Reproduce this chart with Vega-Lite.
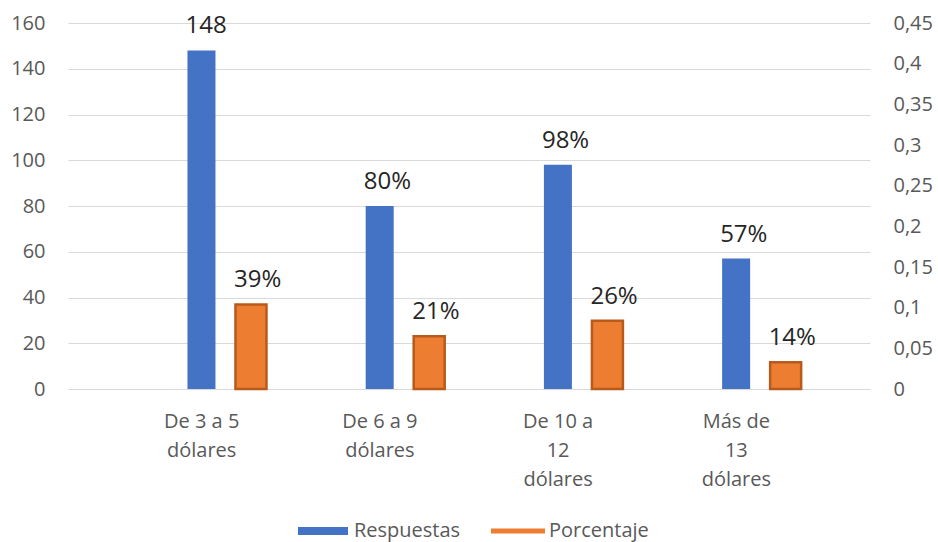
{
  "$schema": "https://vega.github.io/schema/vega-lite/v6.json",
  "autosize": "none",
  "width": 802,
  "height": 366,
  "padding": {"left": 68, "top": 23, "right": 68, "bottom": 153},
  "background": "white",
  "config": {
    "view": {"stroke": null},
    "font": "Open Sans",
    "axis": {"labelFont": "Open Sans", "labelColor": "#595959", "labelFontSize": 20, "domain": false, "ticks": false, "tickSize": 0, "title": null},
    "legend": {"labelFont": "Open Sans"}
  },
  "data": {
    "values": [
      {"categoria": "De 3 a 5 dólares", "serie": "Respuestas", "valor": 148, "etiqueta": "148"},
      {"categoria": "De 6 a 9 dólares", "serie": "Respuestas", "valor": 80, "etiqueta": "80%"},
      {"categoria": "De 10 a 12 dólares", "serie": "Respuestas", "valor": 98, "etiqueta": "98%"},
      {"categoria": "Más de 13 dólares", "serie": "Respuestas", "valor": 57, "etiqueta": "57%"},
      {"categoria": "De 3 a 5 dólares", "serie": "Porcentaje", "valor": 0.104, "etiqueta": "39%"},
      {"categoria": "De 6 a 9 dólares", "serie": "Porcentaje", "valor": 0.065, "etiqueta": "21%"},
      {"categoria": "De 10 a 12 dólares", "serie": "Porcentaje", "valor": 0.084, "etiqueta": "26%"},
      {"categoria": "Más de 13 dólares", "serie": "Porcentaje", "valor": 0.033, "etiqueta": "14%"}
    ]
  },
  "encoding": {
    "x": {
      "field": "categoria",
      "type": "nominal",
      "sort": ["De 3 a 5 dólares", "De 6 a 9 dólares", "De 10 a 12 dólares", "Más de 13 dólares"],
      "scale": {"paddingInner": 0, "paddingOuter": 0.25},
      "axis": {
        "labelAngle": 0,
        "labelPadding": 22,
        "labelLineHeight": 29,
        "labelBaseline": "top",
        "labelExpr": "datum.value == 'De 3 a 5 dólares' ? ['De 3 a 5', 'dólares'] : datum.value == 'De 6 a 9 dólares' ? ['De 6 a 9', 'dólares'] : datum.value == 'De 10 a 12 dólares' ? ['De 10 a', '12', 'dólares'] : ['Más de', '13', 'dólares']"
      }
    },
    "xOffset": {
      "field": "serie",
      "type": "nominal",
      "scale": {"domain": ["Respuestas", "Porcentaje"], "paddingInner": 0, "paddingOuter": 0.8, "align": 0.81}
    }
  },
  "layer": [
    {
      "transform": [{"filter": "datum.serie == 'Respuestas'"}],
      "encoding": {
        "y": {
          "field": "valor",
          "type": "quantitative",
          "scale": {"domain": [0, 160], "nice": false},
          "axis": {"orient": "left", "values": [0, 20, 40, 60, 80, 100, 120, 140, 160], "grid": true, "gridColor": "#D9D9D9", "gridWidth": 1, "labelPadding": 23}
        }
      },
      "layer": [
        {
          "mark": {"type": "bar", "width": 28},
          "encoding": {
            "color": {
              "field": "serie",
              "type": "nominal",
              "scale": {"domain": ["Respuestas", "Porcentaje"], "range": ["#4472C4", "#ED7D31"]},
              "legend": {
                "title": null,
                "orient": "none",
                "direction": "horizontal",
                "legendX": 230,
                "legendY": 483,
                "symbolSize": 2500,
                "labelFontSize": 20,
                "labelColor": "#595959",
                "labelOffset": 6,
                "columnPadding": 30,
                "encode": {
                  "symbols": {
                    "update": {
                      "shape": {"signal": "datum.value === 'Respuestas' ? 'M-1,-0.16H1V0.16H-1Z' : 'M-1.08,-0.1H1.08V0.1H-1.08Z'"},
                      "strokeWidth": {"value": 0}
                    }
                  }
                }
              }
            }
          }
        },
        {
          "mark": {"type": "text", "align": "left", "baseline": "alphabetic", "dx": -16, "dy": -17, "fontSize": 24, "color": "#262626", "font": "Open Sans"},
          "encoding": {"text": {"field": "etiqueta"}}
        }
      ]
    },
    {
      "transform": [{"filter": "datum.serie == 'Porcentaje'"}],
      "encoding": {
        "y": {
          "field": "valor",
          "type": "quantitative",
          "scale": {"domain": [0, 0.45], "nice": false},
          "axis": {"orient": "right", "values": [0, 0.05, 0.1, 0.15, 0.2, 0.25, 0.3, 0.35, 0.4, 0.45], "grid": false, "labelPadding": 23, "labelExpr": "replace(format(datum.value, '~g'), '.', ',')"}
        }
      },
      "layer": [
        {
          "mark": {"type": "bar", "width": 31, "stroke": "#B85A1B", "strokeWidth": 2.5},
          "encoding": {
            "color": {"field": "serie", "type": "nominal"}
          }
        },
        {
          "mark": {"type": "text", "align": "left", "baseline": "alphabetic", "dx": -17, "dy": -17, "fontSize": 24, "color": "#262626", "font": "Open Sans"},
          "encoding": {"text": {"field": "etiqueta"}}
        }
      ]
    }
  ],
  "resolve": {"scale": {"y": "independent"}}
}
